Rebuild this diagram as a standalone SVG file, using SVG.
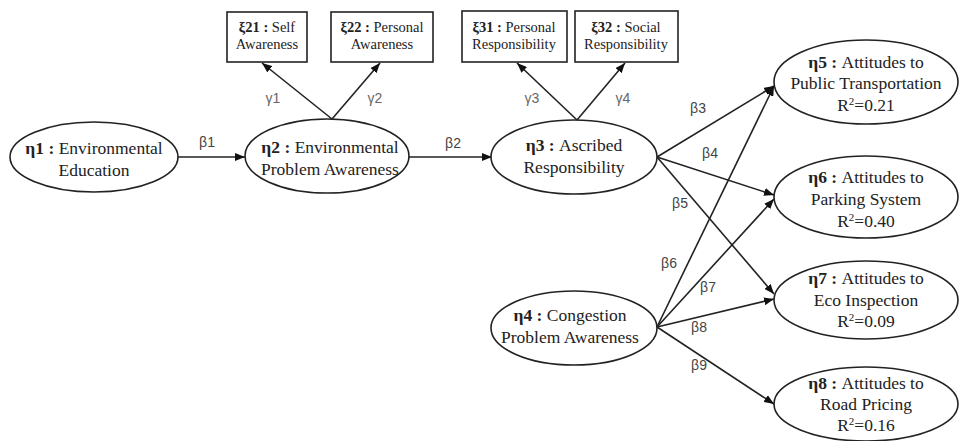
<svg xmlns="http://www.w3.org/2000/svg" width="964" height="441" viewBox="0 0 964 441">
<style>
.node ellipse{fill:#fff;stroke:#222;stroke-width:1.6}
.node rect{fill:#fff;stroke:#222;stroke-width:1.6}
.t{font-family:'Liberation Serif','Times New Roman','DejaVu Serif',serif;font-size:17.5px;fill:#222;text-anchor:middle}
.bt{font-family:'Liberation Serif','Times New Roman','DejaVu Serif',serif;font-size:14.5px;fill:#222;text-anchor:middle}
.b{font-weight:bold}
.lbl{font-family:'Liberation Sans',Arial,sans-serif;font-size:14px;fill:#444;text-anchor:middle}
.g{fill:#666}
#edges line{stroke:#222;stroke-width:1.6;marker-end:url(#ah)}
</style>
<defs>
<marker id="ah" viewBox="0 0 10 8" refX="10" refY="4" markerWidth="10" markerHeight="8" markerUnits="userSpaceOnUse" orient="auto">
<path d="M0,0 L10,4 L0,8 Z" fill="#111"/>
</marker>
</defs>
<rect width="964" height="441" fill="#fff"/>
<g id="edges">
<line x1="178" y1="157" x2="245" y2="157"/>
<line x1="409" y1="157" x2="492" y2="157"/>
<line x1="332" y1="119" x2="262" y2="63"/>
<line x1="332" y1="119" x2="380" y2="63"/>
<line x1="577" y1="120" x2="517" y2="63"/>
<line x1="577" y1="120" x2="625" y2="63"/>
<line x1="657" y1="157" x2="774" y2="86"/>
<line x1="657" y1="157" x2="774" y2="195"/>
<line x1="657" y1="157" x2="774" y2="294"/>
<line x1="657" y1="327" x2="774" y2="86"/>
<line x1="657" y1="327" x2="774" y2="199"/>
<line x1="657" y1="327" x2="774" y2="299"/>
<line x1="657" y1="327" x2="774" y2="404"/>
</g>
<g id="labels">
<text class="lbl" x="207" y="147">β1</text>
<text class="lbl" x="453" y="148">β2</text>
<text class="lbl" x="698" y="113">β3</text>
<text class="lbl" x="710" y="158">β4</text>
<text class="lbl" x="680" y="208">β5</text>
<text class="lbl" x="669" y="268">β6</text>
<text class="lbl" x="708" y="292">β7</text>
<text class="lbl" x="699" y="332">β8</text>
<text class="lbl" x="699" y="370">β9</text>
<text class="lbl g" x="273" y="103">γ1</text>
<text class="lbl g" x="375" y="103">γ2</text>
<text class="lbl g" x="532" y="103">γ3</text>
<text class="lbl g" x="623" y="103">γ4</text>
</g>
<g id="xi21" class="node">
<rect x="227" y="12" width="80" height="50"/>
<text class="bt" x="267" y="32"><tspan class="b">ξ21 :</tspan> Self</text>
<text class="bt" x="267" y="49">Awareness</text>
</g>
<g id="xi22" class="node">
<rect x="331" y="12" width="102" height="50"/>
<text class="bt" x="382" y="32"><tspan class="b">ξ22 :</tspan> Personal</text>
<text class="bt" x="382" y="49">Awareness</text>
</g>
<g id="xi31" class="node">
<rect x="462" y="11" width="105" height="51"/>
<text class="bt" x="514" y="32"><tspan class="b">ξ31 :</tspan> Personal</text>
<text class="bt" x="514" y="49">Responsibility</text>
</g>
<g id="xi32" class="node">
<rect x="575" y="11" width="103" height="51"/>
<text class="bt" x="626" y="32"><tspan class="b">ξ32 :</tspan> Social</text>
<text class="bt" x="626" y="49">Responsibility</text>
</g>
<g id="eta1" class="node">
<ellipse cx="94" cy="157" rx="84" ry="35"/>
<text class="t" x="94" y="154"><tspan class="b">η1 :</tspan> Environmental</text>
<text class="t" x="94" y="176">Education</text>
</g>
<g id="eta2" class="node">
<ellipse cx="327" cy="156" rx="82" ry="37"/>
<text class="t" x="330" y="153"><tspan class="b">η2 :</tspan> Environmental</text>
<text class="t" x="330" y="175">Problem Awareness</text>
</g>
<g id="eta3" class="node">
<ellipse cx="574" cy="157" rx="83" ry="37"/>
<text class="t" x="574" y="151"><tspan class="b">η3 :</tspan> Ascribed</text>
<text class="t" x="574" y="173">Responsibility</text>
</g>
<g id="eta4" class="node">
<ellipse cx="574" cy="328" rx="83" ry="37"/>
<text class="t" x="570" y="321"><tspan class="b">η4 :</tspan> Congestion</text>
<text class="t" x="570" y="343">Problem Awareness</text>
</g>
<g id="eta5" class="node">
<ellipse cx="866" cy="82" rx="92" ry="42"/>
<text class="t" x="866" y="68"><tspan class="b">η5 :</tspan> Attitudes to</text>
<text class="t" x="866" y="89">Public Transportation</text>
<text class="t" x="866" y="111">R<tspan font-size="11" dy="-6">2</tspan><tspan dy="6">=0.21</tspan></text>
</g>
<g id="eta6" class="node">
<ellipse cx="866" cy="197" rx="92" ry="41"/>
<text class="t" x="866" y="183"><tspan class="b">η6 :</tspan> Attitudes to</text>
<text class="t" x="866" y="205">Parking System</text>
<text class="t" x="866" y="227">R<tspan font-size="11" dy="-6">2</tspan><tspan dy="6">=0.40</tspan></text>
</g>
<g id="eta7" class="node">
<ellipse cx="866" cy="300" rx="92" ry="39"/>
<text class="t" x="866" y="284"><tspan class="b">η7 :</tspan> Attitudes to</text>
<text class="t" x="866" y="306">Eco Inspection</text>
<text class="t" x="866" y="327">R<tspan font-size="11" dy="-6">2</tspan><tspan dy="6">=0.09</tspan></text>
</g>
<g id="eta8" class="node">
<ellipse cx="866" cy="404" rx="92" ry="37"/>
<text class="t" x="866" y="389"><tspan class="b">η8 :</tspan> Attitudes to</text>
<text class="t" x="866" y="410">Road Pricing</text>
<text class="t" x="866" y="431">R<tspan font-size="11" dy="-6">2</tspan><tspan dy="6">=0.16</tspan></text>
</g>
</svg>
